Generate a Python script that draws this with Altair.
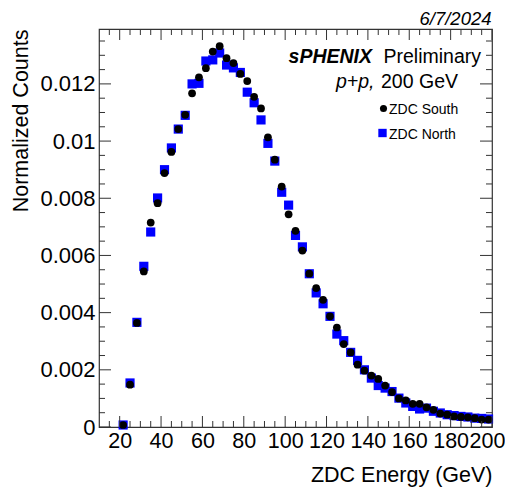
import altair as alt
import pandas as pd

# ---------------- data ----------------
energy = [21.67, 25.0, 28.33, 31.67, 35.0, 38.33, 41.67, 45.0, 48.33, 51.67,
          55.0, 58.33, 61.67, 65.0, 68.33, 71.67, 75.0, 78.33, 81.67, 85.0,
          88.33, 91.67, 95.0, 98.33, 101.67, 105.0, 108.33, 111.67, 115.0, 118.33,
          121.67, 125.0, 128.33, 131.67, 135.0, 138.33, 141.67, 145.0, 148.33, 151.67,
          155.0, 158.33, 161.67, 165.0, 168.33, 171.67, 175.0, 178.33, 181.67, 185.0,
          188.33, 191.67, 195.0, 198.33]

zdc_south = [0.00007, 0.00148, 0.00364, 0.00544, 0.00715, 0.00783, 0.00888, 0.00962, 0.01042, 0.01092,
             0.01167, 0.01223, 0.01255, 0.01313, 0.01332, 0.01290, 0.01273, 0.01235, 0.01210, 0.01155,
             0.01114, 0.01013, 0.00935, 0.00841, 0.00744, 0.00686, 0.00617, 0.00536, 0.00486, 0.00445,
             0.00387, 0.00348, 0.00290, 0.00261, 0.00218, 0.00197, 0.00180, 0.00168, 0.00145, 0.00122,
             0.00100, 0.00093, 0.00081, 0.00081, 0.00069, 0.00060, 0.00047, 0.00043, 0.00037, 0.00035,
             0.00034, 0.00031, 0.00026, 0.00026]

zdc_north = [0.00007, 0.00154, 0.00366, 0.00562, 0.00682, 0.00801, 0.00900, 0.00976, 0.01042, 0.01090,
             0.01200, 0.01202, 0.01280, 0.01284, 0.01308, 0.01266, 0.01256, 0.01240, 0.01171, 0.01134,
             0.01074, 0.00992, 0.00930, 0.00821, 0.00776, 0.00670, 0.00630, 0.00536, 0.00469, 0.00431,
             0.00387, 0.00325, 0.00302, 0.00261, 0.00233, 0.00200, 0.00171, 0.00145, 0.00136, 0.00124,
             0.00101, 0.00084, 0.00072, 0.00063, 0.00066, 0.00055, 0.00049, 0.00043, 0.00040, 0.00037,
             0.00035, 0.00031, 0.00030, 0.00028]

x_major = [20, 40, 60, 80, 100, 120, 140, 160, 180, 200]
x_minor = [15, 25, 30, 35, 45, 50, 55, 65, 70, 75, 85, 90, 95, 105, 110, 115, 125, 130, 135,
           145, 150, 155, 165, 170, 175, 185, 190, 195]
y_major = [0.0, 0.002, 0.004, 0.006, 0.008, 0.010, 0.012]
y_minor = [0.0005, 0.001, 0.0015, 0.0025, 0.003, 0.0035, 0.0045, 0.005, 0.0055,
           0.0065, 0.007, 0.0075, 0.0085, 0.009, 0.0095, 0.0105, 0.011, 0.0115,
           0.0125, 0.013, 0.0135]

# ---------------- layout ----------------
W, H = 393, 398
FONT = "Liberation Sans"
TICK = "#333333"

xscale = alt.Scale(domain=[10, 200], nice=False, zero=False)
yscale = alt.Scale(domain=[0, 0.01392], nice=False, zero=False)

label_expr = ("datum.value == 0 ? '0' : datum.value == 0.01 ? '0.01' : format(datum.value, '.3f')")

xaxis = alt.Axis(values=x_major, ticks=False, domain=False, grid=False,
                 labelFont=FONT, labelFontSize=21.5, labelColor="black",
                 labelPadding=3, labelOverlap=False, labelFlush=False,
                 labelOffset={"condition": {"test": "datum.value == 200", "value": -5}, "value": 0},
                 title="ZDC Energy (GeV)", titleFont=FONT, titleFontSize=21.5,
                 titleFontWeight="normal", titleColor="black",
                 titleAnchor="end", titleAlign="right", titleBaseline="alphabetic",
                 titleX=W, titleY=54, format="d")
yaxis = alt.Axis(values=y_major, ticks=False, domain=False, grid=False,
                 labelFont=FONT, labelFontSize=22, labelColor="black",
                 labelPadding=4, labelOverlap=False, labelFlush=False,
                 labelExpr=label_expr,
                 title="Normalized Counts", titleFont=FONT, titleFontSize=21.5,
                 titleFontWeight="normal", titleColor="black",
                 titleAngle=270, titleAlign="right", titleBaseline="alphabetic",
                 titleX=-72, titleY=0)

df = pd.DataFrame({"energy": energy, "south": zdc_south, "north": zdc_north})
one = pd.DataFrame({"k": [0]})

north_pts = alt.Chart(df).mark_square(size=84, color="#0000ff", opacity=1).encode(
    x=alt.X("energy:Q", scale=xscale, axis=xaxis),
    y=alt.Y("north:Q", scale=yscale, axis=yaxis),
)
south_pts = alt.Chart(df).mark_circle(size=60, color="black", opacity=1).encode(
    x=alt.X("energy:Q", scale=xscale, axis=xaxis),
    y=alt.Y("south:Q", scale=yscale, axis=yaxis),
)

# tick marks drawn inward on all four sides (ROOT style)
def xticks(vals, length):
    d = pd.DataFrame({"v": vals})
    bottom = alt.Chart(d).mark_rule(color=TICK, strokeWidth=1).encode(
        x=alt.X("v:Q", scale=xscale, axis=xaxis), y=alt.value(H), y2=alt.value(H - length))
    top = alt.Chart(d).mark_rule(color=TICK, strokeWidth=1).encode(
        x=alt.X("v:Q", scale=xscale, axis=xaxis), y=alt.value(0), y2=alt.value(length))
    return [bottom, top]

def yticks(vals, length):
    d = pd.DataFrame({"v": vals})
    left = alt.Chart(d).mark_rule(color=TICK, strokeWidth=1).encode(
        y=alt.Y("v:Q", scale=yscale, axis=yaxis), x=alt.value(0), x2=alt.value(length))
    right = alt.Chart(d).mark_rule(color=TICK, strokeWidth=1).encode(
        y=alt.Y("v:Q", scale=yscale, axis=yaxis), x=alt.value(W), x2=alt.value(W - length))
    return [left, right]

tick_layers = xticks(x_major, 11) + xticks(x_minor, 6) + yticks(y_major, 12) + yticks(y_minor, 6)

# annotations
def txt(s, x, y, size, style="normal", weight="normal", align="right"):
    return alt.Chart(one).mark_text(text=s, font=FONT, fontSize=size, fontStyle=style,
                                    fontWeight=weight, align=align, baseline="alphabetic",
                                    color="black").encode(x=alt.value(x), y=alt.value(y))

annot = [
    txt("6/7/2024", W - 0.5, -4.5, 18.5, style="italic"),
    txt("sPHENIX", 273, 34, 19.5, style="italic", weight="bold"),
    txt("Preliminary", 382, 34, 19.5),
    txt("p+p,", 275.5, 58.5, 19.5, style="italic"),
    txt("200 GeV", 359, 58.5, 19.5),
    txt("ZDC South", 290, 85, 14, align="left"),
    txt("ZDC North", 290, 109.5, 14, align="left"),
]
leg_circle = alt.Chart(one).mark_circle(size=50, color="black", opacity=1).encode(
    x=alt.value(284.5), y=alt.value(79.5))
leg_square = alt.Chart(one).mark_square(size=70, color="#0000ff", opacity=1).encode(
    x=alt.value(283.5), y=alt.value(104))

chart = alt.layer(north_pts, south_pts, *tick_layers, *annot, leg_circle, leg_square).properties(
    width=W, height=H,
    autosize=alt.AutoSizeParams(type="none"),
    padding={"left": 91, "top": 21, "right": 13, "bottom": 60},
).configure_view(stroke="#333333", strokeWidth=1.2)

chart.save("out.html", embed_options={"renderer": "svg", "actions": False})
